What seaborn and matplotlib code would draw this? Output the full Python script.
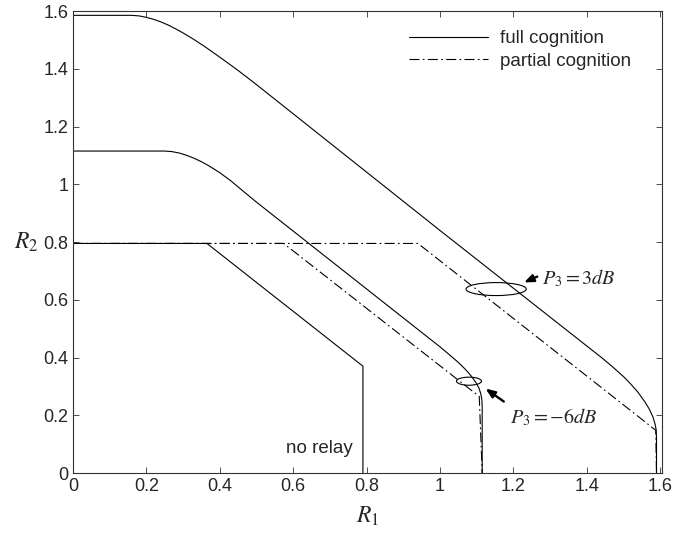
import matplotlib
matplotlib.use("Agg")
import matplotlib.pyplot as plt
import seaborn as sns
import pandas as pd
from matplotlib.patches import Ellipse
from matplotlib.lines import Line2D

# ---- data ----
full3_r1 = [0.0, 0.16, 0.18, 0.20, 0.22, 0.24, 0.26, 0.28, 0.30, 0.33, 0.36, 0.40, 0.45, 0.50,
            1.00, 1.40, 1.44, 1.47, 1.50, 1.52, 1.54, 1.56, 1.57, 1.58, 1.586, 1.589, 1.59, 1.59]
full3_r2 = [1.585, 1.585, 1.583, 1.578, 1.571, 1.562, 1.551, 1.538, 1.524, 1.501, 1.476, 1.440, 1.394, 1.345,
            0.84, 0.44, 0.40, 0.368, 0.334, 0.308, 0.279, 0.243, 0.222, 0.195, 0.17, 0.15, 0.12, 0.0]

full6_r1 = [0.0, 0.25, 0.27, 0.29, 0.31, 0.33, 0.35, 0.37, 0.40, 0.43, 0.46, 0.50,
            1.00, 1.03, 1.05, 1.07, 1.085, 1.097, 1.106, 1.111, 1.114, 1.115, 1.115]
full6_r2 = [1.115, 1.115, 1.113, 1.108, 1.100, 1.090, 1.078, 1.064, 1.040, 1.012, 0.980, 0.938,
            0.437, 0.405, 0.383, 0.358, 0.336, 0.315, 0.295, 0.275, 0.255, 0.23, 0.0]

norelay_r1 = [0.0, 0.365, 0.79, 0.79]
norelay_r2 = [0.795, 0.795, 0.37, 0.0]

part3_r1 = [0.0, 0.94, 1.588, 1.59]
part3_r2 = [0.795, 0.795, 0.148, 0.0]

part6_r1 = [0.0, 0.574, 1.107, 1.115]
part6_r2 = [0.795, 0.795, 0.265, 0.0]

legend_labels = ["full cognition", "partial cognition"]
ann_3db = r"$P_3 = 3dB$"
ann_6db = r"$P_3 = -6dB$"
norelay_label = "no relay"
xticks = [0, 0.2, 0.4, 0.6, 0.8, 1.0, 1.2, 1.4, 1.6]
xticklabels = ["0", "0.2", "0.4", "0.6", "0.8", "1", "1.2", "1.4", "1.6"]
yticks = [0, 0.2, 0.4, 0.6, 0.8, 1.0, 1.2, 1.4, 1.6]
yticklabels = ["0", "0.2", "0.4", "0.6", "0.8", "1", "1.2", "1.4", "1.6"]

sns.set_style("ticks")
plt.rcParams["font.family"] = ["Liberation Sans", "DejaVu Sans"]
plt.rcParams["mathtext.fontset"] = "stix"
plt.rcParams["xtick.direction"] = "in"
plt.rcParams["ytick.direction"] = "in"

fig = plt.figure(figsize=(6.76, 5.34), dpi=100)
ax = fig.add_axes([0.108, 0.1142, 0.9793 - 0.108, 0.9794 - 0.1142])

lw = 0.8
dashdot = (0, (9, 3, 1.5, 3))

def draw(xs, ys, style):
    df = pd.DataFrame({"R1": xs, "R2": ys})
    sns.lineplot(data=df, x="R1", y="R2", sort=False, estimator=None, ax=ax,
                 color="black", linewidth=lw, linestyle=style)

draw(full3_r1, full3_r2, "-")
draw(full6_r1, full6_r2, "-")
draw(norelay_r1, norelay_r2, "-")
draw(part3_r1, part3_r2, dashdot)
draw(part6_r1, part6_r2, dashdot)

ax.set_xlim(0, 1.605)
ax.set_ylim(0, 1.6)
ax.set_xticks(xticks)
ax.set_xticklabels(xticklabels)
ax.set_yticks(yticks)
ax.set_yticklabels(yticklabels)
ax.tick_params(axis="both", which="both", labelsize=13, length=4, width=0.6,
               top=True, right=True, color="#333333")
for s in ax.spines.values():
    s.set_linewidth(0.8)
    s.set_color("#333333")

ax.set_xlabel(r"$R_1$", fontsize=17, labelpad=7)
ax.set_ylabel(r"$R_2$", fontsize=17, rotation=0, labelpad=12, va="center")

# ellipses and annotations
ax.add_patch(Ellipse((1.153, 0.637), 0.164, 0.045, fill=False, edgecolor="black", linewidth=lw))
ax.add_patch(Ellipse((1.079, 0.318), 0.068, 0.028, fill=False, edgecolor="black", linewidth=lw))
ax.annotate("", xy=(1.222, 0.656), xytext=(1.272, 0.684),
            arrowprops=dict(arrowstyle="-|>,head_length=0.55,head_width=0.22", color="black", lw=1.7))
ax.annotate("", xy=(1.118, 0.298), xytext=(1.18, 0.242),
            arrowprops=dict(arrowstyle="-|>,head_length=0.55,head_width=0.22", color="black", lw=1.7))
ax.text(1.277, 0.675, ann_3db, fontsize=14.5, va="center", ha="left")
ax.text(1.19, 0.194, ann_6db, fontsize=14.5, va="center", ha="left")
ax.text(0.67, 0.085, norelay_label, fontsize=13.5, va="center", ha="center")

handles = [Line2D([], [], color="black", lw=lw, linestyle="-"),
           Line2D([], [], color="black", lw=lw, linestyle=dashdot)]
fig.legend(handles, legend_labels, loc="upper left", bbox_to_anchor=(409 / 676, 1 - 30 / 534),
           frameon=False, fontsize=13.5, handlelength=4.2, handletextpad=0.65,
           labelspacing=0.3, borderpad=0, borderaxespad=0)

fig.savefig("out.png", dpi=100)
